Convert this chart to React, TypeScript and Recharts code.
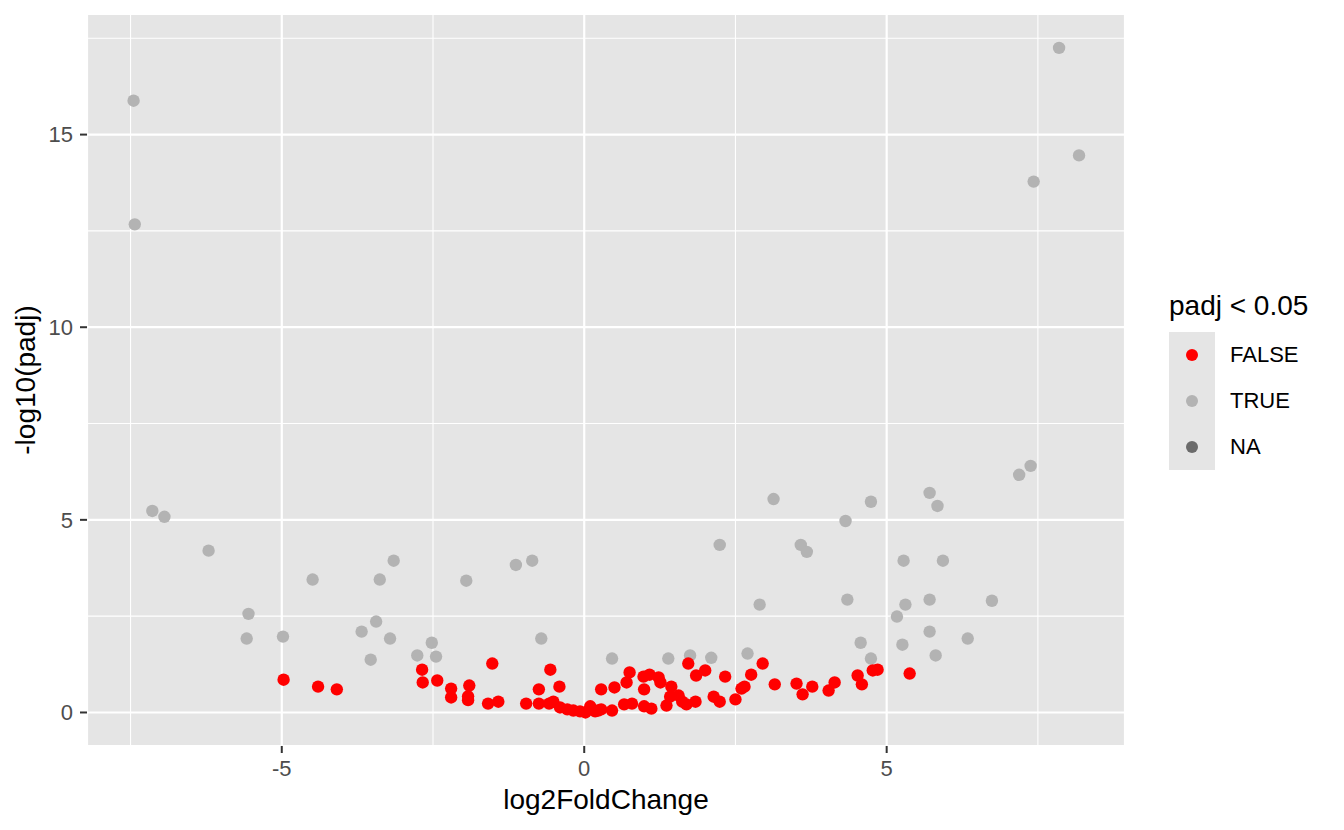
import React from 'react';
import { ScatterChart, Scatter, XAxis, YAxis, CartesianGrid, Legend } from 'recharts';

// padj >= 0.05 (shown red as FALSE)
const falsePoints = [
  { x: -4.97, y: 0.85 }, { x: -4.4, y: 0.67 }, { x: -4.09, y: 0.6 },
  { x: -2.68, y: 1.11 }, { x: -2.67, y: 0.78 }, { x: -2.43, y: 0.83 },
  { x: -2.2, y: 0.62 }, { x: -2.2, y: 0.39 }, { x: -1.9, y: 0.7 },
  { x: -1.92, y: 0.42 }, { x: -1.92, y: 0.32 }, { x: -1.52, y: 1.27 },
  { x: -1.59, y: 0.23 }, { x: -1.42, y: 0.28 }, { x: -0.96, y: 0.23 },
  { x: -0.75, y: 0.6 }, { x: -0.56, y: 1.11 }, { x: -0.41, y: 0.67 },
  { x: -0.75, y: 0.23 }, { x: -0.58, y: 0.23 }, { x: -0.51, y: 0.28 },
  { x: -0.4, y: 0.13 }, { x: -0.28, y: 0.08 }, { x: -0.18, y: 0.05 },
  { x: -0.07, y: 0.03 }, { x: 0.02, y: 0.0 }, { x: 0.1, y: 0.16 },
  { x: 0.18, y: 0.03 }, { x: 0.23, y: 0.05 }, { x: 0.28, y: 0.6 },
  { x: 0.28, y: 0.08 }, { x: 0.46, y: 0.05 }, { x: 0.5, y: 0.65 },
  { x: 0.66, y: 0.21 }, { x: 0.75, y: 1.04 }, { x: 0.7, y: 0.78 },
  { x: 0.79, y: 0.23 }, { x: 0.98, y: 0.93 }, { x: 1.08, y: 0.98 },
  { x: 0.99, y: 0.6 }, { x: 0.99, y: 0.16 }, { x: 1.11, y: 0.1 },
  { x: 1.23, y: 0.91 }, { x: 1.26, y: 0.78 }, { x: 1.36, y: 0.18 },
  { x: 1.42, y: 0.41 }, { x: 1.44, y: 0.67 }, { x: 1.56, y: 0.44 },
  { x: 1.62, y: 0.28 }, { x: 1.69, y: 0.21 }, { x: 1.72, y: 1.27 },
  { x: 1.84, y: 0.28 }, { x: 1.85, y: 0.96 }, { x: 2.0, y: 1.09 },
  { x: 2.14, y: 0.41 }, { x: 2.24, y: 0.28 }, { x: 2.33, y: 0.93 },
  { x: 2.5, y: 0.34 }, { x: 2.6, y: 0.62 }, { x: 2.65, y: 0.67 },
  { x: 2.76, y: 0.98 }, { x: 2.95, y: 1.27 }, { x: 3.15, y: 0.73 },
  { x: 3.51, y: 0.75 }, { x: 3.61, y: 0.47 }, { x: 3.77, y: 0.67 },
  { x: 4.04, y: 0.57 }, { x: 4.14, y: 0.78 }, { x: 4.52, y: 0.96 },
  { x: 4.59, y: 0.73 }, { x: 4.77, y: 1.09 }, { x: 4.85, y: 1.11 },
  { x: 5.38, y: 1.01 },
];

// padj < 0.05 (grey, TRUE)
const truePoints = [
  { x: -7.45, y: 15.88 }, { x: -7.43, y: 12.67 }, { x: -7.14, y: 5.23 },
  { x: -6.94, y: 5.08 }, { x: -6.21, y: 4.2 }, { x: -5.55, y: 2.56 },
  { x: -5.58, y: 1.92 }, { x: -4.98, y: 1.97 }, { x: -4.49, y: 3.45 },
  { x: -3.68, y: 2.1 }, { x: -3.44, y: 2.36 }, { x: -3.38, y: 3.45 },
  { x: -3.53, y: 1.37 }, { x: -3.21, y: 1.92 }, { x: -3.15, y: 3.94 },
  { x: -2.76, y: 1.48 }, { x: -2.52, y: 1.81 }, { x: -2.45, y: 1.45 },
  { x: -1.95, y: 3.42 }, { x: -1.13, y: 3.83 }, { x: -0.86, y: 3.94 },
  { x: -0.71, y: 1.92 }, { x: 0.46, y: 1.4 }, { x: 1.39, y: 1.4 },
  { x: 1.75, y: 1.48 }, { x: 2.1, y: 1.42 }, { x: 2.24, y: 4.35 },
  { x: 2.7, y: 1.53 }, { x: 2.9, y: 2.8 }, { x: 3.13, y: 5.54 },
  { x: 3.58, y: 4.35 }, { x: 3.68, y: 4.17 }, { x: 4.32, y: 4.97 },
  { x: 4.35, y: 2.93 }, { x: 4.57, y: 1.81 }, { x: 4.74, y: 5.47 },
  { x: 4.74, y: 1.4 }, { x: 5.17, y: 2.49 }, { x: 5.26, y: 1.76 },
  { x: 5.28, y: 3.94 }, { x: 5.31, y: 2.8 }, { x: 5.71, y: 5.7 },
  { x: 5.84, y: 5.36 }, { x: 5.71, y: 2.93 }, { x: 5.71, y: 2.1 },
  { x: 5.81, y: 1.48 }, { x: 5.93, y: 3.94 }, { x: 6.34, y: 1.92 },
  { x: 6.74, y: 2.9 }, { x: 7.19, y: 6.17 }, { x: 7.38, y: 6.4 },
  { x: 7.43, y: 13.78 }, { x: 7.85, y: 17.25 }, { x: 8.18, y: 14.46 },
];

const naPoints: { x: number; y: number }[] = [];

const xTicks = [-5, 0, 5];
const xMinorTicks = [-7.5, -2.5, 2.5, 7.5];
const yTicks = [0, 5, 10, 15];
const yMinorTicks = [2.5, 7.5, 12.5, 17.5];

const legendItems = [
  { label: 'FALSE', color: '#ff0000' },
  { label: 'TRUE', color: '#b3b3b3' },
  { label: 'NA', color: '#6b6b6b' },
];

const FONT = '"Liberation Sans", Arial, sans-serif';
const PANEL = '#e5e5e5';
const X_DOMAIN: [number, number] = [-8.22, 8.94];
const Y_DOMAIN: [number, number] = [-0.87, 18.13];

const dot = (color: string) => (props: any) => (
  <circle cx={props.cx} cy={props.cy} r={6.2} fill={color} />
);

function LegendBox() {
  return (
    <div style={{ fontFamily: FONT, color: '#000' }}>
      <div style={{ fontSize: 28, lineHeight: '28px', marginBottom: 12 }}>padj &lt; 0.05</div>
      {legendItems.map((item) => (
        <div key={item.label} style={{ display: 'flex', alignItems: 'center', height: 46 }}>
          <svg width={46} height={46} style={{ display: 'block', background: PANEL }}>
            <circle cx={23} cy={23} r={6} fill={item.color} />
          </svg>
          <span style={{ fontSize: 22, marginLeft: 15 }}>{item.label}</span>
        </div>
      ))}
    </div>
  );
}

export default function App() {
  const tickStyle = { fill: '#4d4d4d', fontSize: 22, fontFamily: FONT };
  const tickLine = { stroke: '#333333', strokeWidth: 2 };

  return (
    <div style={{ position: 'absolute', left: 0, top: 0, background: '#fff' }}>
      <ScatterChart width={1344} height={830} margin={{ top: 14, right: 219, bottom: 0, left: 0 }}>
        <XAxis xAxisId="minor" type="number" dataKey="x" domain={X_DOMAIN} ticks={xMinorTicks} allowDataOverflow hide />
        <YAxis yAxisId="minor" type="number" dataKey="y" domain={Y_DOMAIN} ticks={yMinorTicks} allowDataOverflow hide />
        <CartesianGrid xAxisId="minor" yAxisId="minor" stroke="#ffffff" strokeWidth={1.1} fill={PANEL} fillOpacity={1} />
        <CartesianGrid stroke="#ffffff" strokeWidth={2.2} />
        <XAxis
          type="number"
          dataKey="x"
          domain={X_DOMAIN}
          ticks={xTicks}
          allowDataOverflow
          interval={0}
          height={84}
          axisLine={false}
          tickLine={tickLine}
          tickSize={7}
          tickMargin={7}
          tick={tickStyle}
          label={{
            value: 'log2FoldChange',
            position: 'insideBottom',
            offset: 21,
            style: { fill: '#000', fontSize: 28, fontFamily: FONT },
          }}
        />
        <YAxis
          type="number"
          dataKey="y"
          domain={Y_DOMAIN}
          ticks={yTicks}
          allowDataOverflow
          interval={0}
          width={87}
          axisLine={false}
          tickLine={tickLine}
          tickSize={7}
          tickMargin={7}
          tick={tickStyle}
          label={{
            value: '-log10(padj)',
            angle: -90,
            position: 'insideLeft',
            offset: 25,
            style: { fill: '#000', fontSize: 28, fontFamily: FONT, textAnchor: 'middle' },
          }}
        />
        <Scatter name="TRUE" data={truePoints} fill="#b3b3b3" shape={dot('#b3b3b3')} isAnimationActive={false} />
        <Scatter name="FALSE" data={falsePoints} fill="#ff0000" shape={dot('#ff0000')} isAnimationActive={false} />
        <Scatter name="NA" data={naPoints} fill="#6b6b6b" shape={dot('#6b6b6b')} isAnimationActive={false} />
        <Legend
          layout="vertical"
          align="center"
          verticalAlign="middle"
          content={() => <LegendBox />}
          wrapperStyle={{ left: 1169, top: 292, width: 'auto', right: 'auto', bottom: 'auto' }}
        />
      </ScatterChart>
    </div>
  );
}
